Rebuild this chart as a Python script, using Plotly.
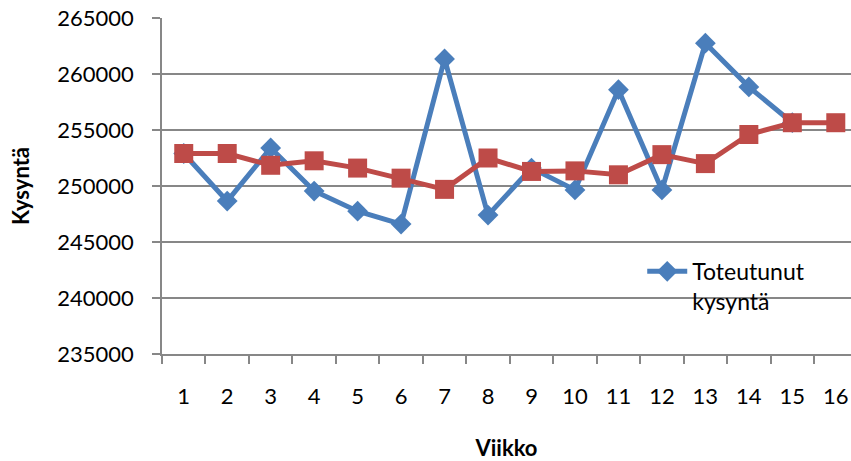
import plotly.graph_objects as go

# Weekly demand: realised values and the forecast line
weeks = [str(w) for w in range(1, 17)]
toteutunut = [252900, 248650, 253400, 249550, 247750, 246600, 261350, 247400,
              251600, 249650, 258600, 249650, 262750, 258850, 255650]
ennuste = [252900, 252900, 251850, 252250, 251600, 250700, 249700, 252500,
           251300, 251350, 251000, 252800, 252000, 254600, 255650, 255650]
y_ticks = [235000, 240000, 245000, 250000, 255000, 260000, 265000]

BLUE = "#4A7EBB"
RED = "#BE4B48"
GRID = "#878787"
FONT = "Lato"

fig = go.Figure()
fig.add_trace(go.Scatter(
    x=weeks[:len(toteutunut)], y=toteutunut, mode="lines+markers",
    name="Toteutunut<br>kysyntä",
    line=dict(color=BLUE, width=5),
    marker=dict(symbol="diamond", size=16, color=BLUE),
))
fig.add_trace(go.Scatter(
    x=weeks, y=ennuste, mode="lines+markers", name="Ennuste",
    showlegend=False,
    line=dict(color=RED, width=5),
    marker=dict(symbol="square", size=19, color=RED),
))

fig.update_layout(
    width=851, height=461,
    margin=dict(l=162, r=0, t=18, b=107),
    paper_bgcolor="white", plot_bgcolor="white",
    font=dict(family=FONT, size=22, color="black"),
    legend=dict(
        x=0.697, y=0.31, xanchor="left", yanchor="top",
        valign="top", bgcolor="rgba(0,0,0,0)",
        font=dict(family=FONT, size=23, color="black"),
        itemwidth=40,
    ),
)
fig.update_xaxes(
    type="category", categoryorder="array", categoryarray=weeks,
    range=[-0.5, 15.35],
    showgrid=False, showline=True, linecolor=GRID, linewidth=1.5,
    ticks="outside", tickson="boundaries", ticklen=8, tickcolor=GRID,
    tickwidth=1.5, ticklabelstandoff=22,
    title=dict(text="<b>Viikko</b>", standoff=33,
               font=dict(family=FONT, size=22)),
)
fig.update_yaxes(
    range=[235000, 265000], tickvals=y_ticks,
    tickformat="d",
    showgrid=True, gridcolor=GRID, gridwidth=1.5,
    showline=True, linecolor=GRID, linewidth=1.5,
    ticks="outside", ticklen=8, tickcolor=GRID, tickwidth=1.5,
    ticklabelstandoff=14, zeroline=False,
    title=dict(text="<b>Kysyntä</b>", standoff=22,
               font=dict(family=FONT, size=22)),
)

fig.write_html("out.html")
